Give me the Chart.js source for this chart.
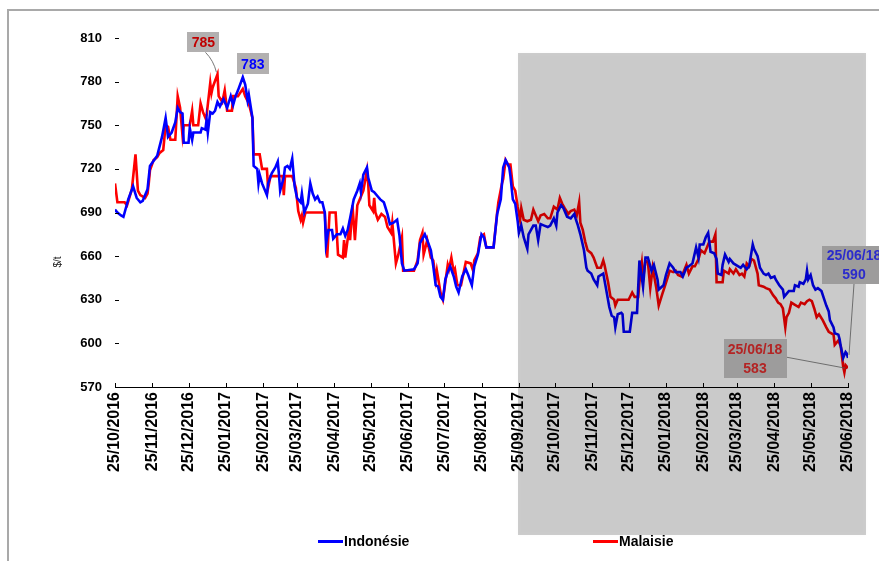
<!DOCTYPE html>
<html><head><meta charset="utf-8">
<script src="https://cdn.jsdelivr.net/npm/chart.js@4.4.1/dist/chart.umd.min.js"></script>
<style>
html,body{margin:0;padding:0;background:#fff;}
#wrap{position:relative;width:879px;height:561px;overflow:hidden;}
#frame{position:absolute;left:7px;top:9px;width:900px;height:600px;border-left:2px solid #a9a9a9;border-top:2px solid #a9a9a9;pointer-events:none;}
canvas{position:absolute;left:0;top:0;}
</style></head><body>
<div id="wrap"><canvas id="c" width="879" height="561"></canvas><div id="frame"></div></div>
<script>
const tickLabels = ['25/10/2016','25/11/2016','25/12/2016','25/01/2017','25/02/2017','25/03/2017','25/04/2017','25/05/2017','25/06/2017','25/07/2017','25/08/2017','25/09/2017','25/10/2017','25/11/2017','25/12/2017','25/01/2018','25/02/2018','25/03/2018','25/04/2018','25/05/2018','25/06/2018'];
const yTicks = [570,600,630,660,690,720,750,780,810];
const yUnit = '$/t';
const shadedFrom = '2017-09-25';
const seriesNames = ['Indonésie','Malaisie'];

const indoDates = [
'2016-10-25','2016-10-27','2016-10-30','2016-11-01','2016-11-02','2016-11-05','2016-11-09','2016-11-12','2016-11-15','2016-11-17','2016-11-21','2016-11-23',
'2016-11-29','2016-12-03','2016-12-06','2016-12-08','2016-12-11','2016-12-14','2016-12-16','2016-12-18','2016-12-20','2016-12-21',
'2016-12-25','2016-12-26','2016-12-28','2016-12-29','2017-01-04','2017-01-05','2017-01-08','2017-01-09','2017-01-10','2017-01-12','2017-01-14','2017-01-16','2017-01-18','2017-01-20','2017-01-23',
'2017-01-26','2017-01-29','2017-01-31','2017-02-02','2017-02-04','2017-02-08','2017-02-10','2017-02-12','2017-02-13','2017-02-16','2017-02-17','2017-02-20','2017-02-21','2017-02-22','2017-02-24',
'2017-02-28','2017-03-01','2017-03-04','2017-03-07','2017-03-09','2017-03-10','2017-03-11','2017-03-14','2017-03-15','2017-03-17','2017-03-19','2017-03-21','2017-03-23',
'2017-03-25','2017-03-28','2017-03-29','2017-03-31','2017-04-03','2017-04-05','2017-04-07','2017-04-09','2017-04-11','2017-04-13','2017-04-15','2017-04-17','2017-04-18','2017-04-20','2017-04-23','2017-04-24',
'2017-04-27','2017-04-30','2017-05-02','2017-05-04','2017-05-06','2017-05-08','2017-05-11','2017-05-14','2017-05-16','2017-05-17','2017-05-19','2017-05-22','2017-05-23',
'2017-05-26','2017-05-28','2017-05-31','2017-06-02','2017-06-05','2017-06-08','2017-06-10','2017-06-13','2017-06-16','2017-06-18','2017-06-20','2017-06-22',
'2017-06-30','2017-07-03','2017-07-05','2017-07-09','2017-07-11','2017-07-14','2017-07-16','2017-07-18','2017-07-20','2017-07-22','2017-07-24',
'2017-07-26','2017-07-28','2017-07-30','2017-08-02','2017-08-04','2017-08-06','2017-08-09','2017-08-12','2017-08-14','2017-08-17','2017-08-19','2017-08-22',
'2017-08-25','2017-08-27','2017-08-29','2017-09-04','2017-09-07','2017-09-10','2017-09-12','2017-09-14','2017-09-17','2017-09-18','2017-09-20','2017-09-22','2017-09-24',
'2017-09-25','2017-09-27','2017-09-29','2017-10-02','2017-10-03','2017-10-07','2017-10-09','2017-10-11','2017-10-13','2017-10-16','2017-10-19','2017-10-21','2017-10-24',
'2017-10-26','2017-10-27','2017-10-30','2017-11-01','2017-11-04','2017-11-07','2017-11-10','2017-11-11','2017-11-13','2017-11-15','2017-11-18','2017-11-20','2017-11-21','2017-11-24',
'2017-11-26','2017-11-29','2017-11-30','2017-12-04','2017-12-06','2017-12-09','2017-12-11','2017-12-13','2017-12-14','2017-12-16','2017-12-19','2017-12-20','2017-12-21',
'2017-12-26','2017-12-28','2018-01-01','2018-01-03','2018-01-06','2018-01-08','2018-01-10','2018-01-13','2018-01-15','2018-01-18','2018-01-19','2018-01-23',
'2018-01-25','2018-01-28','2018-01-31','2018-02-02','2018-02-06','2018-02-08','2018-02-11','2018-02-13','2018-02-16','2018-02-19','2018-02-21','2018-02-22',
'2018-02-25','2018-02-27','2018-03-01','2018-03-03','2018-03-06','2018-03-08','2018-03-09','2018-03-12','2018-03-13','2018-03-15','2018-03-18','2018-03-19','2018-03-22',
'2018-03-26','2018-03-28','2018-03-30','2018-04-02','2018-04-04','2018-04-07','2018-04-08','2018-04-11','2018-04-13','2018-04-16','2018-04-18','2018-04-20','2018-04-22',
'2018-04-25','2018-04-26','2018-04-29','2018-05-02','2018-05-03','2018-05-05','2018-05-07','2018-05-11','2018-05-12','2018-05-15','2018-05-16','2018-05-19','2018-05-21','2018-05-22','2018-05-23',
'2018-05-25','2018-05-27','2018-05-29','2018-05-31','2018-06-03','2018-06-05','2018-06-07','2018-06-09','2018-06-10','2018-06-13','2018-06-14','2018-06-17','2018-06-18','2018-06-19','2018-06-21','2018-06-23','2018-06-24','2018-06-25'
];
const indoValues = [
692,690,688,687,690,699,708,700,697,698,706,722,
729,742,755,742,745,752,762,759,758,738,
738,748,740,745,745,748,747,754,745,759,758,760,766,763,768,
762,770,764,770,774,783,778,767,771,755,722,720,710,716,710,
702,710,717,721,725,716,705,714,721,722,720,727,708,
700,697,703,690,696,710,703,699,701,697,697,690,668,678,678,672,
675,675,679,674,678,686,699,705,710,704,716,721,714,
705,704,701,699,697,689,682,683,685,674,655,650,
651,655,669,675,671,664,653,640,639,632,630,
644,649,653,646,639,635,646,651,647,640,653,661,
675,673,666,666,689,699,721,726,721,715,699,696,684,
676,681,673,665,675,681,681,671,682,681,680,681,686,
681,690,695,693,687,686,689,686,681,675,664,652,650,648,
644,640,646,648,639,625,619,618,611,620,621,620,608,
608,621,621,657,639,659,659,650,654,644,637,640,
647,655,652,649,649,646,652,653,655,666,659,668,
668,673,676,663,662,658,648,647,654,661,656,658,655,
653,652,654,651,653,668,665,660,652,648,647,648,645,
646,644,640,637,632,634,636,636,640,639,642,641,644,650,644,
647,640,637,638,636,631,626,622,616,611,607,606,603,598,590,594,593,590
];

const malDates = [
'2016-10-25','2016-10-27','2016-11-02','2016-11-04','2016-11-08','2016-11-11','2016-11-13','2016-11-15','2016-11-19','2016-11-21','2016-11-22','2016-11-23',
'2016-11-26','2016-11-29','2016-12-01','2016-12-04','2016-12-06','2016-12-08','2016-12-10','2016-12-14','2016-12-16','2016-12-18','2016-12-20','2016-12-21',
'2016-12-26','2016-12-28','2016-12-29','2017-01-02','2017-01-04','2017-01-06','2017-01-08','2017-01-09','2017-01-12','2017-01-13','2017-01-14','2017-01-18','2017-01-19','2017-01-22','2017-01-24',
'2017-01-26','2017-01-30','2017-01-31','2017-02-04','2017-02-08','2017-02-10','2017-02-13','2017-02-16','2017-02-17','2017-02-22','2017-02-24',
'2017-02-28','2017-03-01','2017-03-03','2017-03-13','2017-03-14','2017-03-15','2017-03-21','2017-03-24',
'2017-03-26','2017-03-28','2017-03-29','2017-03-30','2017-04-01','2017-04-17','2017-04-19','2017-04-21',
'2017-04-26','2017-04-28','2017-05-02','2017-05-03','2017-05-04','2017-05-07','2017-05-08','2017-05-10','2017-05-12','2017-05-14','2017-05-17','2017-05-19','2017-05-22','2017-05-23','2017-05-24',
'2017-05-27','2017-05-28','2017-05-29','2017-05-31','2017-06-03','2017-06-06','2017-06-08','2017-06-11','2017-06-12','2017-06-15','2017-06-17','2017-06-20','2017-06-21',
'2017-06-30','2017-07-03','2017-07-05','2017-07-07','2017-07-08','2017-07-11','2017-07-14','2017-07-16','2017-07-18','2017-07-19','2017-07-22','2017-07-24',
'2017-07-26','2017-07-28','2017-07-29','2017-07-31','2017-08-02','2017-08-03','2017-08-05','2017-08-08','2017-08-10','2017-08-12','2017-08-16','2017-08-18','2017-08-19','2017-08-22','2017-08-24',
'2017-08-27','2017-08-29','2017-09-04','2017-09-07','2017-09-08','2017-09-11','2017-09-12','2017-09-14','2017-09-16','2017-09-18','2017-09-20','2017-09-22','2017-09-24',
'2017-09-26','2017-09-27','2017-09-29','2017-10-02','2017-10-05','2017-10-07','2017-10-11','2017-10-13','2017-10-16','2017-10-19','2017-10-21','2017-10-24',
'2017-10-27','2017-10-29','2017-10-31','2017-11-02','2017-11-05','2017-11-07','2017-11-10','2017-11-12','2017-11-14','2017-11-15','2017-11-17','2017-11-19','2017-11-21','2017-11-24',
'2017-11-26','2017-11-29','2017-12-02','2017-12-04','2017-12-05','2017-12-08','2017-12-10','2017-12-13','2017-12-14','2017-12-16',
'2017-12-25','2017-12-28','2017-12-30','2018-01-02','2018-01-03','2018-01-05','2018-01-06','2018-01-08','2018-01-10','2018-01-12','2018-01-14','2018-01-17','2018-01-19','2018-01-22','2018-01-24',
'2018-01-27','2018-01-28','2018-01-31','2018-02-02','2018-02-04','2018-02-07','2018-02-09','2018-02-11','2018-02-13','2018-02-16','2018-02-18','2018-02-21','2018-02-23',
'2018-02-26','2018-03-02','2018-03-05','2018-03-07','2018-03-08','2018-03-13','2018-03-14','2018-03-18','2018-03-19','2018-03-22','2018-03-24',
'2018-03-27','2018-03-29','2018-03-31','2018-04-02','2018-04-04','2018-04-06','2018-04-08','2018-04-11','2018-04-12','2018-04-16','2018-04-18','2018-04-21','2018-04-24',
'2018-04-26','2018-04-28','2018-04-30','2018-05-02','2018-05-04','2018-05-05','2018-05-07','2018-05-09','2018-05-11','2018-05-15','2018-05-17','2018-05-20','2018-05-22','2018-05-24',
'2018-05-26','2018-05-28','2018-05-30','2018-06-01','2018-06-04','2018-06-07','2018-06-09','2018-06-13','2018-06-14','2018-06-17','2018-06-19','2018-06-21','2018-06-22','2018-06-23','2018-06-25'
];
const malValues = [
710,697,697,695,706,730,705,702,700,703,710,719,
726,728,731,733,750,749,740,740,770,762,743,750,
750,760,750,750,765,759,755,757,779,772,776,785,770,766,774,
760,760,770,770,775,770,765,755,730,730,720,
720,707,715,715,702,715,715,707,
691,685,688,683,690,690,659,690,
690,661,659,671,659,678,671,695,671,695,701,705,719,710,695,
691,700,690,685,689,687,680,676,683,655,661,673,650,
650,657,671,676,661,671,659,657,644,650,635,630,
642,654,651,659,649,651,640,640,648,656,655,650,657,662,673,
675,666,666,690,697,710,713,726,723,723,708,705,694,
685,693,685,684,685,692,684,688,689,686,686,694,
692,700,696,693,689,691,692,688,697,683,678,670,664,662,
659,652,652,657,654,642,632,630,626,630,
630,635,632,632,642,655,644,657,656,638,652,638,626,634,639,
647,650,649,650,647,646,650,654,648,653,653,658,664,
662,670,670,675,642,642,650,648,651,648,651,
647,648,646,655,653,658,657,648,640,639,638,637,633,
631,628,627,624,611,618,621,628,627,625,628,627,629,630,
629,624,618,620,616,611,608,606,599,602,598,584,580,585,583
];

const FONT = '"Liberation Sans", Arial, Helvetica, sans-serif';
const T0 = Date.UTC(2016, 9, 25);
function dayOff(iso){ const [y,m,d] = iso.split('-').map(Number); return Math.round((Date.UTC(y,m-1,d)-T0)/86400000); }
function frToIso(s){ const [d,m,y] = s.split('/'); return y+'-'+m+'-'+d; }
function shortFr(iso){ const [y,m,d] = iso.split('-'); return d+'/'+m+'/'+y.slice(2); }
const tickDays = tickLabels.map(s => dayOff(frToIso(s)));
function pts(dates, vals){ const n = Math.min(dates.length, vals.length); const a=[]; for(let i=0;i<n;i++) a.push({x:dayOff(dates[i]), y:vals[i]}); return a; }

function drawBox(ctx, cx, top, w, h, lines, fill, color){
  ctx.fillStyle = fill; ctx.fillRect(Math.round(cx-w/2), Math.round(top), w, h);
  ctx.fillStyle = color; ctx.font = 'bold 14px ' + FONT; ctx.textAlign='center'; ctx.textBaseline='middle';
  lines.forEach((s,i) => ctx.fillText(s, cx, top + h/lines.length*(i+0.5) + 1));
}

const deco = {
  id: 'deco',
  afterDatasetsDraw(ch){
    const {ctx, chartArea:a, scales:{x, y}} = ch;
    ctx.save();
    // inside tick marks
    ctx.strokeStyle = '#000'; ctx.lineWidth = 1; ctx.beginPath();
    x.ticks.forEach(t => { const px = Math.round(x.getPixelForValue(t.value)) + 0.5; ctx.moveTo(px, a.bottom - 4); ctx.lineTo(px, a.bottom); });
    y.ticks.forEach(t => { const py = Math.round(y.getPixelForValue(t.value)) + 0.5; ctx.moveTo(a.left, py); ctx.lineTo(a.left + 4, py); });
    ctx.stroke();
    // unit label
    ctx.save(); ctx.translate(58, 262); ctx.rotate(-Math.PI/2);
    ctx.font = '10px ' + FONT; ctx.fillStyle = '#222'; ctx.textAlign='center'; ctx.textBaseline='middle';
    ctx.fillText(yUnit, 0, 0); ctx.restore();
    // shaded forecast zone
    const ox = Math.round(x.getPixelForValue(dayOff(shadedFrom))) - 1;
    ctx.save();
    ctx.shadowColor = 'rgba(0,0,0,0.15)'; ctx.shadowBlur = 3;
    ctx.fillStyle = 'rgba(0,0,0,0.19)';
    ctx.fillRect(ox, 53, a.right + 18 - ox, 535 - 53);
    ctx.restore();
    // annotations
    const ds = ch.data.datasets;
    const inside = px => px >= ox;
    const boxFill = px => inside(px) ? '#9d9c9c' : '#b2b0b0';
    const colBlue = px => inside(px) ? '#2b2bcc' : '#0000ff';
    const colRed = px => inside(px) ? '#b32424' : '#c00000';
    ctx.strokeStyle = '#555'; ctx.lineWidth = 0.8;
    // Malaisie max
    let mi = malValues.indexOf(Math.max(...malValues));
    let px = x.getPixelForValue(dayOff(malDates[mi])), py = y.getPixelForValue(malValues[mi]);
    ctx.beginPath(); ctx.moveTo(px-12, py-22); ctx.quadraticCurveTo(px-4, py-14, px-1, py-2); ctx.stroke();
    drawBox(ctx, px-14, py-42, 32, 20, [String(malValues[mi])], boxFill(px), colRed(px));
    // Indonesia max
    let ii = indoValues.indexOf(Math.max(...indoValues));
    px = x.getPixelForValue(dayOff(indoDates[ii])); py = y.getPixelForValue(indoValues[ii]);
    drawBox(ctx, px+10, py-24, 32, 21, [String(indoValues[ii])], boxFill(px), colBlue(px));
    // Indonesia last
    let li = indoValues.length - 1;
    px = x.getPixelForValue(dayOff(indoDates[li])); py = y.getPixelForValue(indoValues[li]);
    ctx.beginPath(); ctx.moveTo(px+6, py-74); ctx.lineTo(px+1, py-3); ctx.stroke();
    drawBox(ctx, px+6, py-112, 64, 38, [shortFr(indoDates[li]), String(indoValues[li])], boxFill(px-30), colBlue(px));
    // Malaisie last
    let lm = malValues.length - 1;
    px = x.getPixelForValue(dayOff(malDates[lm])); py = y.getPixelForValue(malValues[lm]);
    ctx.beginPath(); ctx.moveTo(px-62, py-11); ctx.lineTo(px-3, py); ctx.stroke();
    drawBox(ctx, px-93, py-29, 63, 39, [shortFr(malDates[lm]), String(malValues[lm])], boxFill(px), colRed(px));
    // legend
    const legendX = [318, 593];
    ds.forEach((d, i) => {
      const lx = legendX[i];
      ctx.strokeStyle = d.borderColor; ctx.lineWidth = 3;
      ctx.beginPath(); ctx.moveTo(lx, 541.5); ctx.lineTo(lx + 25, 541.5); ctx.stroke();
      ctx.fillStyle = '#000'; ctx.font = 'bold 14px ' + FONT; ctx.textAlign = 'left'; ctx.textBaseline = 'middle';
      ctx.fillText(d.label, lx + 26, 542);
    });
    ctx.restore();
  }
};

new Chart(document.getElementById('c'), {
  type: 'line',
  data: { datasets: [
    { label: seriesNames[0], data: pts(indoDates, indoValues), borderColor: '#0000ff', backgroundColor: '#0000ff', borderWidth: 2.6, pointRadius: 0, tension: 0, fill: false },
    { label: seriesNames[1], data: pts(malDates, malValues), borderColor: '#ff0000', backgroundColor: '#ff0000', borderWidth: 2.6, pointRadius: 0, tension: 0, fill: false }
  ]},
  options: {
    responsive: false, animation: false, events: [],
    layout: { padding: { left: 50, right: 31, top: 38, bottom: 0 } },
    plugins: { legend: { display: false }, tooltip: { enabled: false }, title: { display: false } },
    scales: {
      x: {
        type: 'linear', min: tickDays[0], max: tickDays[tickDays.length-1],
        afterBuildTicks: s => { s.ticks = tickDays.map(v => ({ value: v })); },
        afterFit: s => { s.height = 561 - 387; },
        grid: { display: true, drawOnChartArea: false, drawTicks: false, color: '#000' },
        border: { display: true, color: '#000', width: 1 },
        ticks: { autoSkip: false, maxRotation: 90, minRotation: 90, padding: 5, color: '#000',
          font: { family: FONT, size: 16, weight: 'bold' }, callback: (v, i) => tickLabels[i] }
      },
      y: {
        min: yTicks[0], max: yTicks[yTicks.length-1],
        afterBuildTicks: s => { s.ticks = yTicks.map(v => ({ value: v })); },
        afterFit: s => { s.width = 65; },
        grid: { display: false, drawTicks: false },
        border: { display: false },
        ticks: { padding: 13, color: '#000', font: { family: FONT, size: 13, weight: 'bold' } }
      }
    }
  },
  plugins: [deco]
});
</script>
</body></html>
